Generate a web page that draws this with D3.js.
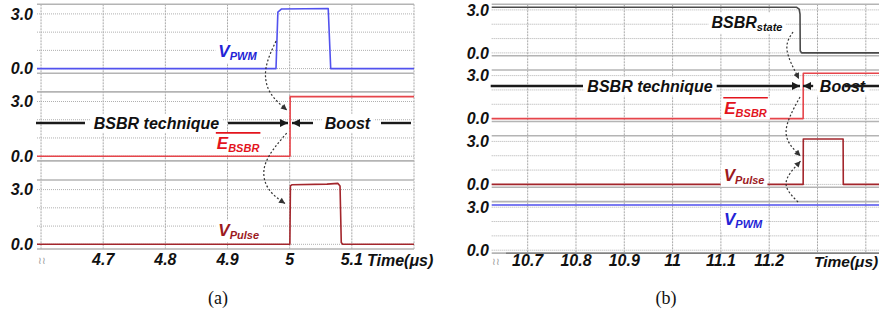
<!DOCTYPE html>
<html lang="en">
<head>
<meta charset="UTF-8">
<title>BSBR technique waveforms</title>
<script src="https://d3js.org/d3.v7.min.js"></script>
<style>
  body { margin: 0; background: #fff; }
  svg text { font-family: "Liberation Sans", Arial, sans-serif; font-weight: bold; font-style: italic; }
  svg text.cap { font-family: "Liberation Serif", "Times New Roman", serif; font-weight: normal; font-style: normal; }
</style>
</head>
<body>
<svg id="chart" width="879" height="321"></svg>
<script>
// ---- panel (a): time in us, level in volts
const gridA = [4.6, 4.7, 4.8, 4.9, 5.0, 5.1, 5.2];
const ticksA = [4.7, 4.8, 4.9, 5, 5.1];
const vpwmA = [[4.5935, 0], [4.978, 0], [4.981, 3.1], [4.987, 3.27], [5.062, 3.3], [5.066, 0], [5.2, 0]];
const ebsbrA = [[4.5935, 0], [5.0005, 0], [5.0008, 3.27], [5.2, 3.27]];
const vpulseA = [[4.5935, 0], [5.0003, 0], [5.0012, 3.2], [5.004, 3.27], [5.06, 3.3], [5.0777, 3.34], [5.081, 3.2], [5.083, 0.1], [5.0853, 0], [5.2, 0]];

// ---- panel (b)
const gridB = [10.7, 10.8, 10.9, 11.0, 11.1, 11.2, 11.3, 11.4];
const ticksB = [10.7, 10.8, 10.9, 11, 11.1, 11.2];
const stateB = [[10.6255, 3.18], [11.257, 3.18], [11.262, 3.05], [11.2638, 2.7], [11.2642, 0.15], [11.267, 0], [11.4273, 0]];
const ebsbrB = [[10.6255, 0], [11.2703, 0], [11.2706, 3.16], [11.4273, 3.16]];
const vpulseB = [[10.6255, 0], [11.2703, 0], [11.2706, 3.17], [11.353, 3.17], [11.3534, 0], [11.4273, 0]];
const vpwmB = [[10.6255, 3.15], [11.4273, 3.15]];

const levelLabels = [[3, "3.0"], [0, "0.0"]];

const panels = [
  { xDomain: [4.5935, 5.2], xRange: [37, 414], tops: [4.3, 91.9, 180], y3: 9.6, y0: 64.3, bandH: 69,
    grid: gridA, ticks: ticksA, labelX: 33, tickY: 265, timeX: 367, timeSize: 16, cap: "(a)", capX: 218, breakX: 42, axisLine: null },
  { xDomain: [10.6255, 11.4273], xRange: [491.7, 879], tops: [4.3, 70, 135.8, 201.6], y3: 5.6, y0: 48.6, bandH: 51.5,
    grid: gridB, ticks: ticksB, labelX: 489, tickY: 266, timeX: 814, timeSize: 15.5, cap: "(b)", capX: 666, breakX: 496, axisLine: [506, 253.3] }
];

const traces = [
  { p: 0, sub: 0, data: vpwmA, color: "#5252ee" },
  { p: 0, sub: 1, data: ebsbrA, color: "#e6454b" },
  { p: 0, sub: 2, data: vpulseA, color: "#a3262c" },
  { p: 1, sub: 0, data: stateB, color: "#4a4a4a" },
  { p: 1, sub: 1, data: ebsbrB, color: "#e6454b" },
  { p: 1, sub: 2, data: vpulseB, color: "#a3262c" },
  { p: 1, sub: 3, data: vpwmB, color: "#4f4fee" }
];

// signal names: main letter, subscript, colour, overline
const names = [
  { p: 0, sub: 0, t: 4.916, v: 0.95, main: "V", subTxt: "PWM", color: "#2424d6" },
  { p: 0, sub: 1, t: 4.917, v: 0.72, main: "E", subTxt: "BSBR", color: "#e3141d", bar: true },
  { p: 0, sub: 2, t: 4.918, v: 0.75, main: "V", subTxt: "Pulse", color: "#9c1a1e" },
  { p: 1, sub: 0, t: 11.154, v: 2.16, main: "BSBR", subTxt: "state", color: "#111" },
  { p: 1, sub: 1, t: 11.151, v: 0.74, main: "E", subTxt: "BSBR", color: "#e3141d", bar: true },
  { p: 1, sub: 2, t: 11.148, v: 0.66, main: "V", subTxt: "Pulse", color: "#9c1a1e" },
  { p: 1, sub: 3, t: 11.146, v: 2.18, main: "V", subTxt: "PWM", color: "#2424d6" }
];

// BSBR technique / Boost banners: line level, text centres, line segments
const banners = [
  { p: 0, sub: 1, v: 1.82, texts: [[4.7857, "BSBR technique"], [5.093, "Boost"]],
    segs: [[4.5919, 4.6707, false], [4.9008, 4.9973, true], [5.0375, 5.0037, true], [5.1469, 5.1952, false]] },
  { p: 1, sub: 1, v: 2.275, texts: [[10.9533, "BSBR technique"], [11.3518, "Boost"]],
    segs: [[10.6234, 10.8145, false], [11.0913, 11.2638, true], [11.291, 11.2700, true], [11.3557, 11.4273, false]] }
];

// dashed causality arrows
const arrows = [
  { p: 0, sub: 0, pts: [[4.978, 1.51], [4.9619, 0.03], [4.9683, -1.29], [4.9957, -2.28]] },
  { p: 0, sub: 1, pts: [[4.9952, 1.27], [4.9614, -0.37], [4.9651, -1.74], [4.9925, -2.6]] },
  { p: 1, sub: 0, pts: [[11.2493, 1.46], [11.2369, 0.2], [11.2617, -1.82]] },
  { p: 1, sub: 1, pts: [[11.2638, 1.51], [11.2349, -0.95], [11.2648, -2.61]] },
  { p: 1, sub: 2, pts: [[11.2597, -1.23], [11.2349, 0.1], [11.2648, 1.62]] }
];

const svg = d3.select("#chart");
const defs = svg.append("defs");
defs.append("marker").attr("id", "head").attr("viewBox", "0 0 10 10")
  .attr("refX", 10).attr("refY", 5).attr("markerWidth", 9).attr("markerHeight", 8)
  .attr("markerUnits", "userSpaceOnUse").attr("orient", "auto")
  .append("path").attr("d", "M0,0L10,5L0,10Z").attr("fill", "#1a1a1a");
defs.append("marker").attr("id", "small").attr("viewBox", "0 0 10 10")
  .attr("refX", 10).attr("refY", 5).attr("markerWidth", 7).attr("markerHeight", 6)
  .attr("markerUnits", "userSpaceOnUse").attr("orient", "auto")
  .append("path").attr("d", "M0,0L10,5L0,10Z").attr("fill", "#333");

const gGrid = svg.append("g");
const gTrace = svg.append("g");
const gNote = svg.append("g");

panels.forEach(p => {
  p.x = d3.scaleLinear().domain(p.xDomain).range(p.xRange);
  p.y = p.tops.map(top => d3.scaleLinear().domain([0, 3]).range([top + p.y0, top + p.y3]));
});

// white box behind a label so the grid does not run through it
function addBox(sel, pad) {
  const b = sel.node().getBBox();
  const rect = document.createElementNS("http://www.w3.org/2000/svg", "rect");
  sel.node().parentNode.insertBefore(rect, sel.node());
  d3.select(rect)
    .attr("x", b.x - pad).attr("y", b.y - 1).attr("width", b.width + 2 * pad).attr("height", b.height + 2)
    .attr("fill", "#fff");
}

panels.forEach(p => {
  const [xa, xb] = p.xRange;
  const yTop = p.tops[0];
  const yBot = p.axisLine ? p.axisLine[1] : p.tops[p.tops.length - 1] + p.bandH;

  // vertical grid
  gGrid.selectAll(null).data(p.grid).join("line")
    .attr("x1", d => p.x(d)).attr("x2", d => p.x(d))
    .attr("y1", yTop).attr("y2", yBot)
    .attr("stroke", "#a8a8a8").attr("stroke-width", 1).attr("stroke-dasharray", "2,1");

  p.tops.forEach((top, si) => {
    const y = p.y[si];
    // solid band borders
    gGrid.selectAll(null).data([top, top + p.bandH]).join("line")
      .attr("x1", xa).attr("x2", xb).attr("y1", d => d).attr("y2", d => d)
      .attr("stroke", "#b4b4b4").attr("stroke-width", 1.6);
    // dotted level lines
    gGrid.selectAll(null).data([0, 1, 2, 3]).join("line")
      .attr("x1", xa).attr("x2", xb).attr("y1", d => y(d)).attr("y2", d => y(d))
      .attr("stroke", "#b0b0b0").attr("stroke-width", 1).attr("stroke-dasharray", "1,1");
    // level labels
    gGrid.selectAll(null).data(levelLabels).join("text")
      .attr("x", p.labelX).attr("y", d => y(d[0])).attr("dy", "0.36em")
      .attr("text-anchor", "end").style("font-size", "16px").attr("fill", "#111")
      .text(d => d[1]);
  });

  if (p.axisLine) {
    gGrid.append("line").attr("x1", p.axisLine[0]).attr("x2", xb)
      .attr("y1", p.axisLine[1]).attr("y2", p.axisLine[1])
      .attr("stroke", "#808080").attr("stroke-width", 1.5);
  }

  // time ticks
  gGrid.selectAll(null).data(p.ticks).join("text")
    .attr("x", d => p.x(d)).attr("y", p.tickY).attr("text-anchor", "middle")
    .style("font-size", "16px").attr("fill", "#111").text(d => d);
  gGrid.append("text").attr("x", p.timeX).attr("y", p.tickY + 1)
    .style("font-size", p.timeSize + "px").attr("fill", "#111").text("Time(\u03bcs)");
  gGrid.append("text").attr("x", p.breakX).attr("y", p.tickY - 1).attr("text-anchor", "middle")
    .style("font-size", "10px").style("font-style", "normal").style("font-weight", "normal")
    .attr("fill", "#999").text("\u2240\u2240");
  gGrid.append("text").attr("class", "cap").attr("x", p.capX).attr("y", 304)
    .attr("text-anchor", "middle").style("font-size", "18px").attr("fill", "#111").text(p.cap);
});

// traces
traces.forEach(tr => {
  const p = panels[tr.p];
  const line = d3.line().x(d => p.x(d[0])).y(d => p.y[tr.sub](d[1]));
  gTrace.append("path").datum(tr.data).attr("d", line)
    .attr("fill", "none").attr("stroke", tr.color).attr("stroke-width", 1.6)
    .attr("stroke-linejoin", "round");
});

// banners
banners.forEach(bn => {
  const p = panels[bn.p];
  const yy = p.y[bn.sub](bn.v);
  bn.texts.forEach(([t, s]) => {
    const tx = gNote.append("text").attr("x", p.x(t)).attr("y", yy).attr("dy", "0.36em")
      .attr("text-anchor", "middle").style("font-size", "16px").attr("fill", "#111").text(s);
    addBox(tx, 3);
  });
  bn.segs.forEach(([t0, t1, head]) => {
    gNote.append("line").attr("x1", p.x(t0)).attr("x2", p.x(t1)).attr("y1", yy).attr("y2", yy)
      .attr("stroke", "#1a1a1a").attr("stroke-width", 2.4)
      .attr("marker-end", head ? "url(#head)" : null);
  });
});

// names
names.forEach(n => {
  const p = panels[n.p];
  const cx = p.x(n.t), cy = p.y[n.sub](n.v);
  const tx = gNote.append("text").attr("x", cx).attr("y", cy).attr("dy", "0.36em")
    .attr("text-anchor", "middle").attr("fill", n.color);
  tx.append("tspan").style("font-size", n.main.length > 1 ? "16px" : "17px").text(n.main);
  tx.append("tspan").attr("dy", 3).style("font-size", "11px").text(n.subTxt);
  addBox(tx, 3);
  if (n.bar) {
    const b = tx.node().getBBox();
    gNote.append("line").attr("x1", b.x - 1).attr("x2", b.x + b.width + 1)
      .attr("y1", b.y - 1).attr("y2", b.y - 1)
      .attr("stroke", n.color).attr("stroke-width", 1.6);
  }
});

// dashed arrows
arrows.forEach(a => {
  const p = panels[a.p];
  const line = d3.line().x(d => p.x(d[0])).y(d => p.y[a.sub](d[1])).curve(d3.curveNatural);
  gNote.append("path").datum(a.pts).attr("d", line)
    .attr("fill", "none").attr("stroke", "#333").attr("stroke-width", 1.2)
    .attr("stroke-dasharray", "2,2").attr("marker-end", "url(#small)");
});
</script>
</body>
</html>
